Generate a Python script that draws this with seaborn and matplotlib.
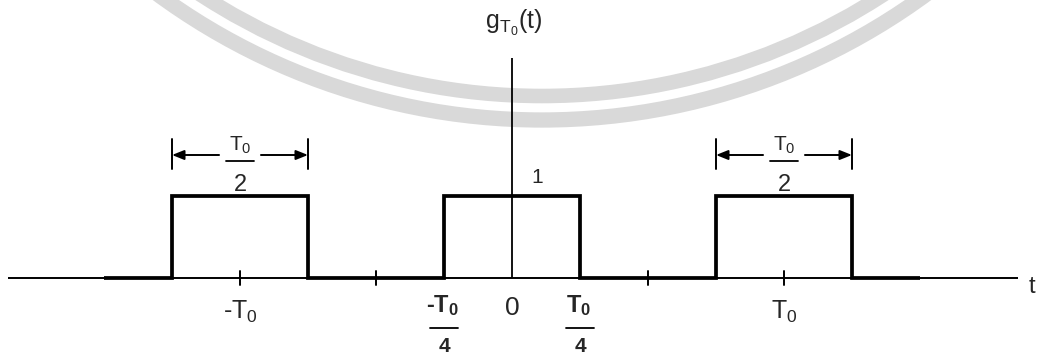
import numpy as np
import matplotlib
matplotlib.use("Agg")
import matplotlib.pyplot as plt
from matplotlib.patches import Circle
import seaborn as sns

# Periodic rectangular pulse train g_T0(t), period T0 = 1, pulse width T0/2
T0 = 1.0
edges = [-1.5, -1.25, -0.75, -0.25, 0.25, 0.75, 1.25, 1.5]
levels = [0, 1, 0, 1, 0, 1, 0]
tick_pos = [-1.0, -0.5, 0.5, 1.0]
dim_pulses = [(-1.25, -0.75), (0.75, 1.25)]

sns.set_theme(style="white")
plt.rcParams["font.family"] = ["Liberation Sans", "DejaVu Sans"]
plt.rcParams["mathtext.fontset"] = "custom"
plt.rcParams["mathtext.rm"] = "Liberation Sans"
plt.rcParams["mathtext.it"] = "Liberation Sans"
plt.rcParams["mathtext.bf"] = "Liberation Sans:bold"

W, H = 1039, 356
fig = plt.figure(figsize=(W / 100, H / 100), dpi=100)
fig.patch.set_facecolor("white")

# faint seal arcs in the background (pixel coordinates)
bg = fig.add_axes([0, 0, 1, 1], zorder=0)
bg.set_xlim(0, W)
bg.set_ylim(H, 0)
bg.axis("off")
for r, lw in [(626, 10.5), (650, 11)]:
    bg.add_patch(Circle((542, -530), r, fill=False, ec="#d9d9d9", lw=lw))

ax = fig.add_axes([0, 0, 1, 1], zorder=1)
ax.patch.set_alpha(0)
ax.set_xlim(-512 / 272, (W - 512) / 272)
ax.set_ylim((278 - H) / 82, 278 / 82)
ax.axis("off")

# step-shaped signal
t_pts, g_pts = [], []
for i, lev in enumerate(levels):
    t_pts += [edges[i], edges[i + 1]]
    g_pts += [lev, lev]

# axes
ax.plot([-1.853, 1.86], [0, 0], color="black", lw=1.4, solid_capstyle="butt")
ax.plot([0, 0], [0, 2.68], color="black", lw=1.3, solid_capstyle="butt")
for tp in tick_pos:
    ax.plot([tp, tp], [-0.085, 0.085], color="black", lw=1.4)

sns.lineplot(x=t_pts, y=g_pts, sort=False, estimator=None, color="black",
             lw=2.7, ax=ax, legend=False)
for ln in ax.lines[-1:]:
    ln.set_solid_joinstyle("miter")
    ln.set_solid_capstyle("butt")

# axis labels
ax.text(1.912, -0.183, "t", fontsize=17, ha="center", va="baseline")
ax.text(0.007, 3.04, r"$\mathrm{g}_{\mathrm{T}_0}(\mathrm{t})$", fontsize=18,
        ha="center", va="baseline")
ax.text(0.092, 1.159, "1", fontsize=15, ha="center", va="baseline")

# tick labels
ax.text(-T0, -0.50, r"-$\mathrm{T}_0$", fontsize=18, ha="center", va="baseline")
ax.text(T0, -0.50, r"$\mathrm{T}_0$", fontsize=18, ha="center", va="baseline")
ax.text(0, -0.451, "0", fontsize=19, ha="center", va="baseline")
for xq, num in [(-T0 / 4, r"-$\mathbf{T}_\mathbf{0}$"), (T0 / 4, r"$\mathbf{T}_\mathbf{0}$")]:
    ax.text(xq - 0.005, -0.415, num, fontsize=17, ha="center", va="baseline",
            fontweight="bold")
    ax.plot([xq - 0.052, xq + 0.052], [-0.61, -0.61], color="black", lw=1.3)
    ax.text(xq, -0.902, "4", fontsize=15, ha="center", va="baseline",
            fontweight="bold")

# width annotations over the outer pulses
for a, b in dim_pulses:
    mid = (a + b) / 2
    for xb in (a, b):
        ax.plot([xb, xb], [1.33, 1.70], color="black", lw=1.4)
    yl = 1.50
    gap = 0.077
    arrow = dict(arrowstyle="-|>,head_length=0.55,head_width=0.22",
                 color="black", lw=1.4, shrinkA=0, shrinkB=0,
                 mutation_scale=13)
    ax.annotate("", xy=(a, yl), xytext=(mid - gap, yl), arrowprops=arrow)
    ax.annotate("", xy=(b, yl), xytext=(mid + gap, yl), arrowprops=arrow)
    ax.text(mid, 1.55, r"$\mathrm{T}_0$", fontsize=15, ha="center", va="baseline")
    ax.plot([mid - 0.05, mid + 0.05], [1.43, 1.43], color="black", lw=1.3)
    ax.text(mid, 1.06, "2", fontsize=17, ha="center", va="baseline")

fig.savefig("out.png", dpi=100, facecolor="white")
